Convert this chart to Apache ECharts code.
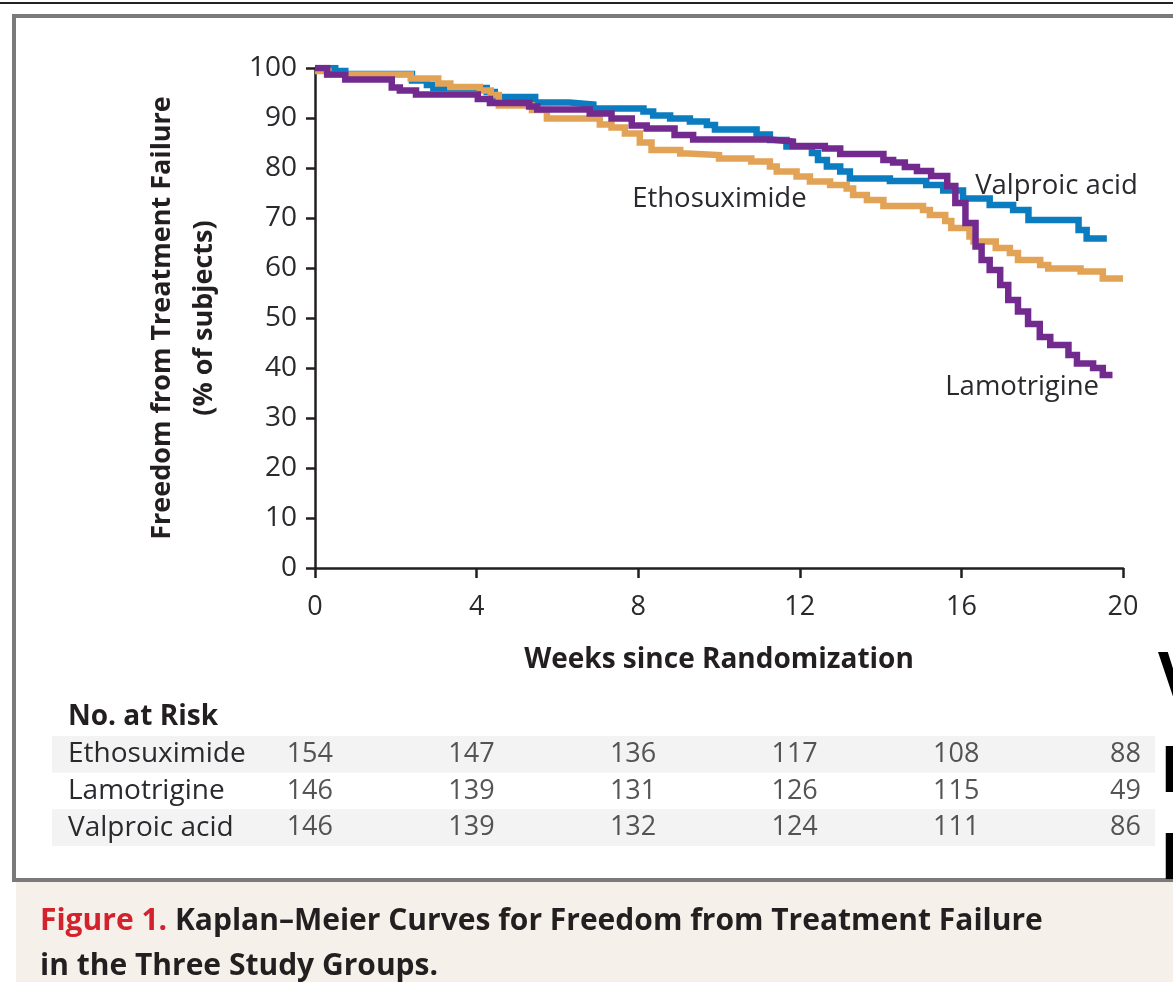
<!DOCTYPE html>
<html>
<head>
<meta charset="utf-8">
<script src="https://cdn.jsdelivr.net/npm/echarts@6/dist/echarts.min.js"></script>
<style>
html,body{margin:0;padding:0;background:#fff;}
#chart{width:1173px;height:982px;}
</style>
</head>
<body>
<div id="chart"></div>
<script>
// ---------- data ----------
var groups = ['Ethosuximide', 'Lamotrigine', 'Valproic acid'];
var xTicks = [0, 4, 8, 12, 16, 20];

// Kaplan–Meier steps: week at which each level starts, and level (% free from failure)
var ethoWeeks  = [0, 0.33, 2.37, 3.05, 3.35, 4.08, 4.35, 4.55, 5.37, 5.74, 7.05, 7.34, 7.67, 8.04, 8.33, 9.04, 9.23, 10.0, 10.8, 11.26, 11.43, 11.92, 12.25, 12.75, 13.16, 13.32, 13.66, 14.07, 15.05, 15.22, 15.6, 15.75, 16.2, 16.3, 16.85, 17.2, 17.4, 17.95, 18.15, 18.95, 19.5, 20.0];
var ethoValues = [99.4, 98.7, 97.9, 96.9, 96.2, 95.5, 94.6, 92.5, 91.6, 89.9, 88.7, 88.1, 86.9, 85.1, 83.6, 82.9, 82.6, 81.9, 81.3, 80.3, 79.3, 78.3, 77.3, 76.6, 75.9, 74.6, 73.6, 72.4, 71.6, 70.6, 69.4, 68.0, 66.3, 65.3, 64.0, 63.0, 61.6, 60.6, 59.9, 59.3, 57.9, 57.9];

var lamoWeeks  = [0, 0.3, 0.75, 1.9, 2.1, 2.5, 4.03, 4.33, 5.3, 5.5, 6.8, 7.34, 7.84, 8.21, 8.9, 9.36, 11.26, 11.83, 12.62, 13.0, 14.07, 14.31, 14.6, 14.9, 15.25, 15.65, 15.85, 16.1, 16.35, 16.5, 16.7, 16.96, 17.16, 17.4, 17.65, 17.94, 18.2, 18.65, 18.86, 19.26, 19.5, 19.74];
var lamoValues = [100, 98.7, 97.7, 96.1, 95.5, 94.7, 93.8, 93.0, 92.3, 91.7, 90.9, 89.9, 88.5, 87.9, 86.6, 85.7, 85.3, 84.4, 83.9, 82.8, 81.6, 81.1, 80.2, 79.4, 78.4, 76.4, 73.0, 69.0, 64.3, 61.6, 59.6, 56.6, 53.6, 51.3, 48.8, 46.2, 44.6, 42.6, 40.9, 40.0, 38.6, 38.6];

var valpWeeks  = [0, 0.5, 0.75, 2.4, 2.77, 2.93, 4.25, 4.45, 5.45, 6.3, 6.89, 8.13, 8.37, 8.79, 9.28, 9.7, 9.9, 10.93, 11.26, 11.67, 12.3, 12.45, 12.67, 13.0, 13.24, 14.23, 15.13, 15.55, 16.04, 16.7, 17.28, 17.66, 18.9, 19.1, 19.6];
var valpValues = [100, 99.4, 98.8, 97.5, 96.6, 96.0, 95.2, 94.2, 93.1, 92.7, 91.9, 91.3, 90.5, 89.9, 89.3, 88.6, 87.7, 86.7, 85.6, 84.3, 83.0, 81.6, 80.3, 79.3, 77.9, 77.4, 76.6, 75.5, 73.9, 72.6, 71.6, 69.6, 67.6, 65.9, 65.9];

// number at risk at each tick week
var riskEtho = [154, 147, 136, 117, 108, 88];
var riskLamo = [146, 139, 131, 126, 115, 49];
var riskValp = [146, 139, 132, 124, 111, 86];

// ---------- build ----------
function pairs(w, v) { return w.map(function (t, i) { return [t, v[i]]; }); }
function riskPoints(name, arr) { return arr.map(function (n, i) { return [xTicks[i], name, n]; }); }

var FONT = '"Open Sans", "Noto Sans", sans-serif';
var TXT = '#2a2a2e';
var AX = '#231f20';
var FS = 27;

var chart = echarts.init(document.getElementById('chart'), null, { renderer: 'canvas' });

var lineBase = { type: 'line', step: 'end', showSymbol: false, symbol: 'none', xAxisIndex: 0, yAxisIndex: 0, silent: true, animation: false };

var option = {
  animation: false,
  backgroundColor: '#ffffff',
  textStyle: { fontFamily: FONT },
  grid: [
    { left: 315, right: 50, top: 68, bottom: 414, containLabel: false },
    { left: 315, right: 50, top: 736, height: 110, containLabel: false }
  ],
  xAxis: [
    {
      type: 'value', gridIndex: 0, min: 0, max: 20, interval: 4,
      axisLine: { show: true, onZero: false, lineStyle: { color: AX, width: 2.5 } },
      axisTick: { show: true, length: 10, lineStyle: { color: AX, width: 2.5 } },
      axisLabel: { color: TXT, fontSize: FS, fontFamily: FONT, margin: 26 },
      splitLine: { show: false },
      name: 'Weeks since Randomization', nameLocation: 'middle', nameGap: 78,
      nameTextStyle: { color: AX, fontSize: 28, fontWeight: 'bold', fontFamily: FONT }
    },
    { type: 'value', gridIndex: 1, min: 0, max: 20, interval: 4, show: false }
  ],
  yAxis: [
    {
      type: 'value', gridIndex: 0, min: 0, max: 100, interval: 10,
      axisLine: { show: true, lineStyle: { color: AX, width: 2.5 } },
      axisTick: { show: true, length: 9, lineStyle: { color: AX, width: 2.5 } },
      axisLabel: { color: TXT, fontSize: 28, fontFamily: FONT, margin: 18 },
      splitLine: { show: false }
    },
    {
      type: 'category', gridIndex: 1, data: groups, inverse: true,
      axisLine: { show: false }, axisTick: { show: false }, splitLine: { show: false },
      axisLabel: { color: TXT, fontSize: 28, fontFamily: FONT, align: 'left', margin: 247 }
    }
  ],
  series: [
    Object.assign({}, lineBase, { name: 'Valproic acid', data: pairs(valpWeeks, valpValues), z: 3,
      lineStyle: { color: '#0a7cbf', width: 6.5, cap: 'butt', join: 'miter' } }),
    Object.assign({}, lineBase, { name: 'Ethosuximide', data: pairs(ethoWeeks, ethoValues), z: 4,
      lineStyle: { color: '#e2a357', width: 6.5, cap: 'butt', join: 'miter' } }),
    Object.assign({}, lineBase, { name: 'Lamotrigine', data: pairs(lamoWeeks, lamoValues), z: 5,
      lineStyle: { color: '#722a8f', width: 6.5, cap: 'butt', join: 'miter' } }),
    {
      type: 'scatter', xAxisIndex: 1, yAxisIndex: 1, symbolSize: 0, silent: true, z: 10,
      data: [].concat(riskPoints(groups[0], riskEtho), riskPoints(groups[1], riskLamo), riskPoints(groups[2], riskValp)),
      label: {
        show: true, position: 'inside', align: 'right', offset: [18, 0],
        formatter: function (p) { return String(p.value[2]); },
        color: TXT, fontSize: FS, fontFamily: FONT
      }
    }
  ]
};
chart.setOption(option);

// ---------- annotations & furniture ----------
function px(w, v) { return chart.convertToPixel({ xAxisIndex: 0, yAxisIndex: 0 }, [w, v]); }
var pE = px(7.85, 73.8), pV = px(16.34, 76.4), pL = px(15.6, 36.2);
var rowTop = chart.convertToPixel({ yAxisIndex: 1 }, groups[0]);
var rowBot = chart.convertToPixel({ yAxisIndex: 1 }, groups[2]);
var band = (rowBot - rowTop) / 2;

function txt(x, y, s, extra) {
  var st = Object.assign({ x: x, y: y, text: s, fill: TXT, font: '27.5px ' + FONT, textVerticalAlign: 'middle' }, extra || {});
  return { type: 'text', z: 100, silent: true, style: st };
}

chart.setOption({
  graphic: [
    { type: 'rect', z: -10, silent: true, shape: { x: 0, y: 2, width: 1173, height: 2 }, style: { fill: '#222' } },
    { type: 'rect', z: -10, silent: true, shape: { x: 14, y: 16, width: 1200, height: 864 }, style: { fill: 'none', stroke: '#7a7a7a', lineWidth: 4 } },
    { type: 'rect', z: -10, silent: true, shape: { x: 16, y: 882, width: 1160, height: 100 }, style: { fill: '#f5f0ea' } },
    { type: 'rect', z: -5, silent: true, shape: { x: 52, y: rowTop - band / 2, width: 1103, height: band }, style: { fill: '#f3f3f3' } },
    { type: 'rect', z: -5, silent: true, shape: { x: 52, y: rowBot - band / 2, width: 1103, height: band }, style: { fill: '#f3f3f3' } },
    txt(pE[0], pE[1], 'Ethosuximide'),
    txt(pV[0], pV[1], 'Valproic acid'),
    txt(pL[0], pL[1], 'Lamotrigine'),
    txt(68, 717, 'No. at Risk', { font: 'bold 28px ' + FONT, fill: AX }),
    { type: 'text', z: 100, silent: true, x: 162, y: 318, rotation: Math.PI / 2,
      style: { x: 0, y: 0, text: 'Freedom from Treatment Failure', fill: AX, font: 'bold 27px ' + FONT, textAlign: 'center', textVerticalAlign: 'middle' } },
    { type: 'text', z: 100, silent: true, x: 204, y: 318, rotation: Math.PI / 2,
      style: { x: 0, y: 0, text: '(% of subjects)', fill: AX, font: 'bold 27px ' + FONT, textAlign: 'center', textVerticalAlign: 'middle' } },
    { type: 'text', z: 100, silent: true,
      style: { x: 40, y: 921, text: '{r|Figure 1. }{b|Kaplan–Meier Curves for Freedom from Treatment Failure}', textVerticalAlign: 'middle',
        rich: { r: { fill: '#d3222c', font: 'bold 30px ' + FONT }, b: { fill: AX, font: 'bold 30px ' + FONT } } } },
    { type: 'text', z: 100, silent: true,
      style: { x: 40, y: 966, text: 'in the Three Study Groups.', fill: AX, font: 'bold 30px ' + FONT, textVerticalAlign: 'middle' } },
    { type: 'text', z: 100, silent: true, style: { x: 1158, y: 680, text: 'V', fill: '#000', font: 'bold 64px ' + FONT, textVerticalAlign: 'middle' } },
    { type: 'text', z: 100, silent: true, style: { x: 1160, y: 774, text: 'L', fill: '#000', font: 'bold 64px ' + FONT, textVerticalAlign: 'middle' } },
    { type: 'text', z: 100, silent: true, style: { x: 1160, y: 861, text: 'L', fill: '#000', font: 'bold 64px ' + FONT, textVerticalAlign: 'middle' } }
  ]
});
</script>
</body>
</html>
